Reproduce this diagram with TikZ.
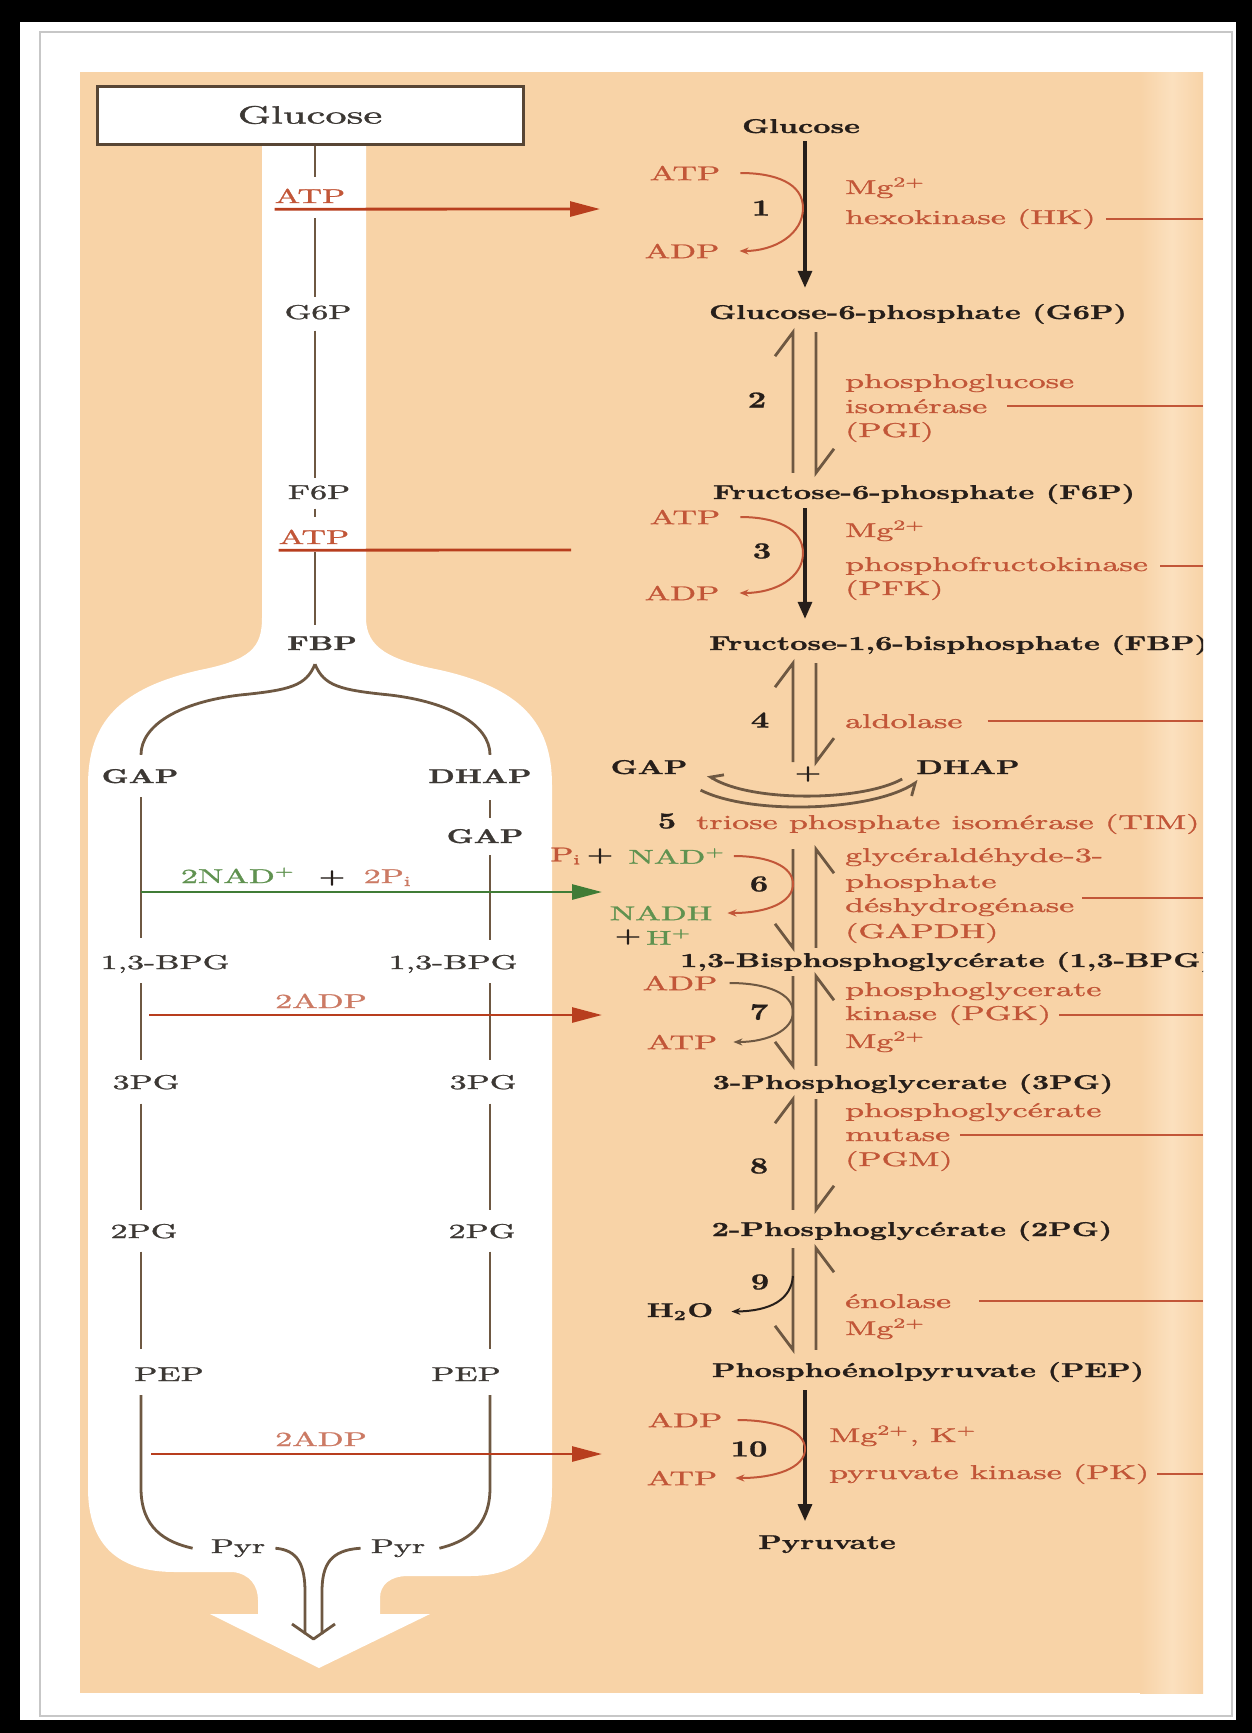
\documentclass[tikz,border=0pt]{standalone}
\usepackage{fontspec}
\usepackage{graphicx}
\usetikzlibrary{arrows.meta}
\newfontfamily\rmw{lmroman10-regular.otf}[FakeBold=1.1]
\newfontfamily\bfw{lmroman10-bold.otf}[FakeBold=0.9]
\definecolor{peach}{RGB}{248,211,167}
\definecolor{peachlt}{RGB}{251,224,190}
\definecolor{enz}{RGB}{194,86,56}
\definecolor{redarr}{RGB}{184,62,30}
\definecolor{grn}{RGB}{96,146,80}
\definecolor{grnarr}{RGB}{64,124,54}
\definecolor{brn}{RGB}{110,88,66}
\definecolor{ink}{RGB}{38,30,26}
\definecolor{gtxt}{RGB}{60,56,52}
\definecolor{pinkl}{RGB}{204,122,100}
\newcommand\RT[1]{\scalebox{3.4}[2]{\fontsize{10}{12}\selectfont\rmw #1}}
\newcommand\BT[1]{\scalebox{3.0}[2]{\fontsize{10}{12}\selectfont\bfw #1}}
\newcommand\NT[1]{\scalebox{3.2}[2.3]{\fontsize{10}{12}\selectfont\bfw #1}}
\newcommand\revA[4]{%
  \draw[rev] ([yshift=#4]#2.north -| rl) -- ([yshift=#3]#1.south -| rl) -- ++(-18,24);
  \draw[rev] ([yshift=#3]#1.south -| rr) -- ([yshift=#4]#2.north -| rr) -- ++(18,-24);}
\newcommand\revB[4]{%
  \draw[rev] ([yshift=#3]#1.south -| rl) -- ([yshift=#4]#2.north -| rl) -- ++(-18,-24);
  \draw[rev] ([yshift=#4]#2.north -| rr) -- ([yshift=#3]#1.south -| rr) -- ++(18,24);}
\tikzset{
 lab/.style={inner sep=0pt, anchor=base, text=gtxt},
 met/.style={inner sep=0pt, anchor=base, text=ink},
 metw/.style={inner sep=0pt, anchor=base west, text=ink},
 num/.style={inner sep=0pt, anchor=center, text=ink},
 cofr/.style={inner sep=0pt, anchor=center, text=enz},
 cofg/.style={inner sep=0pt, anchor=center, text=grn},
 enzt/.style={inner sep=0pt, anchor=base west, text=enz},
 flow/.style={draw=brn, line width=2.8pt},
 rev/.style={draw=brn, line width=2.8pt},
 mainarr/.style={draw=ink, line width=3.2pt, -{Triangle[length=17pt,width=14pt]}},
 cof/.style={draw=enz, line width=2pt, -{Stealth[length=9pt,width=7pt]}},
 enzl/.style={draw=enz, line width=2.6pt},
 redA/.style={draw=redarr, line width=2.8pt, -{Triangle[length=30pt,width=15pt]}},
 grnA/.style={draw=grnarr, line width=2.8pt, -{Triangle[length=30pt,width=15pt]}},
}
\begin{document}
\begin{tikzpicture}[x=1pt,y=-1pt]
\useasboundingbox (0,0) rectangle (1252,1733);
% frame
\fill[black] (0,0) rectangle (1252,1733);
\fill[white] (20,22) rectangle (1236,1720);
\draw[black!22, line width=2pt] (40,32) rectangle (1232,1716);
\fill[peach] (80,72) rectangle (1203,1693);
\shade[left color=peach, right color=peachlt] (1140,72) rectangle (1172,1693);
\shade[left color=peachlt, right color=peach] (1172,72) rectangle (1203,1693);
% white flow shape
\fill[white] (262,144) -- (262,618) .. controls (262,648) and (250,660) .. (200,670)
  .. controls (120,688) and (88,722) .. (88,785) -- (88,1488)
  .. controls (88,1545) and (118,1572) .. (175,1572) -- (233,1572)
  .. controls (250,1574) and (258,1586) .. (258,1600) -- (258,1614) -- (210,1614)
  -- (319,1668) -- (430,1614) -- (380,1614) -- (380,1598)
  .. controls (380,1585) and (390,1576) .. (408,1576) -- (470,1576)
  .. controls (525,1576) and (552,1545) .. (552,1488) -- (552,785)
  .. controls (552,722) and (520,688) .. (440,670)
  .. controls (390,660) and (366,648) .. (366,618) -- (366,144) -- cycle;

\begin{scope}
\clip (80,72) rectangle (1203,1693);
% reference x positions
\coordinate (sx) at (315,0);
\coordinate (cl) at (141,0);
\coordinate (cr) at (490,0);
\coordinate (ax) at (805,0);
\coordinate (rl) at (793,0);
\coordinate (rr) at (816,0);
\coordinate (rx) at (1203,0);

% ---------- left summary column ----------
\node[draw=brn!80!black, line width=3pt, fill=white, minimum width=426pt, minimum height=58pt, inner sep=0pt, text=gtxt] (gbox) at (310,115) {\scalebox{4.25}[2.5]{\fontsize{10}{12}\selectfont\rmw Glucose}};
\node[lab, text=enz] (atpS) at (310,203) {\RT{ATP}};
\node[lab] (g6pL) at (318,319) {\RT{G6P}};
\node[lab] (f6pL) at (319,499) {\RT{F6P}};
\node[lab, text=enz] (atpS2) at (314,544) {\RT{ATP}};
\node[lab] (fbpL) at (322,650) {\BT{FBP}};
\node[lab] (gapL) at (140,783) {\BT{GAP}};
\node[lab] (dhapL) at (480,783) {\BT{DHAP}};
\node[lab] (gapL2) at (485,843) {\BT{GAP}};
\node[lab] (bpgL) at (165,969) {\RT{1,3-BPG}};
\node[lab] (bpgR) at (453,969) {\RT{1,3-BPG}};
\node[lab] (pg3L) at (146,1089) {\RT{3PG}};
\node[lab] (pg3R) at (483,1089) {\RT{3PG}};
\node[lab] (pg2L) at (144,1238) {\RT{2PG}};
\node[lab] (pg2R) at (482,1238) {\RT{2PG}};
\node[lab] (pepL) at (169,1381) {\RT{PEP}};
\node[lab] (pepR) at (466,1381) {\RT{PEP}};
\node[lab] (pyrL) at (238,1553) {\RT{Pyr}};
\node[lab] (pyrR) at (398,1553) {\RT{Pyr}};
\node[lab, text=grn] (nad2) at (238,883) {\RT{2NAD\textsuperscript{+}}};
\node[lab, text=ink] (plus2) at (332,883) {\BT{+}};
\node[lab, text=pinkl] (pi2) at (388,883) {\RT{2P\textsubscript{i}}};
\node[lab, text=pinkl] (adp2a) at (321,1008) {\RT{2ADP}};
\node[lab, text=pinkl] (adp2b) at (321,1446) {\RT{2ADP}};

% stem
\draw[flow] (gbox.south -| sx) -- ([yshift=11pt]atpS.north -| sx);
\draw[flow] ([yshift=-15pt]atpS.south -| sx) -- ([yshift=8pt]g6pL.north -| sx);
\draw[flow] ([yshift=-11pt]g6pL.south -| sx) -- ([yshift=7pt]f6pL.north -| sx);
\draw[flow] ([yshift=-9pt]f6pL.south -| sx) -- ([yshift=12pt]atpS2.north -| sx);
\draw[flow] ([yshift=-8pt]atpS2.south -| sx) -- ([yshift=11pt]fbpL.north -| sx);
% brace
\draw[flow] ([yshift=-14pt]fbpL.south -| sx) .. controls (306,686) and (290,690) .. (240,695)
   .. controls (180,702) and (141,725) .. ([yshift=14pt]gapL.north -| cl);
\draw[flow] ([yshift=-14pt]fbpL.south -| sx) .. controls (324,686) and (340,690) .. (390,695)
   .. controls (450,702) and (490,725) .. ([yshift=14pt]dhapL.north -| cr);
% left column
\draw[flow] ([yshift=-14pt]gapL.south -| cl) -- ([yshift=17pt]bpgL.north -| cl);
\draw[flow] ([yshift=-10pt]bpgL.south -| cl) -- ([yshift=15pt]pg3L.north -| cl);
\draw[flow] ([yshift=-14pt]pg3L.south -| cl) -- ([yshift=14pt]pg2L.north -| cl);
\draw[flow] ([yshift=-13pt]pg2L.south -| cl) -- ([yshift=18pt]pepL.north -| cl);
\draw[flow] ([yshift=-14pt]pepL.south -| cl) -- (141,1488) .. controls (141,1528) and (165,1542) .. ([xshift=-18pt]pyrL.west);
% right column
\draw[flow] ([yshift=-17pt]dhapL.south -| cr) -- ([yshift=11pt]gapL2.north -| cr);
\draw[flow] ([yshift=-12pt]gapL2.south -| cr) -- ([yshift=15pt]bpgR.north -| cr);
\draw[flow] ([yshift=-10pt]bpgR.south -| cr) -- ([yshift=15pt]pg3R.north -| cr);
\draw[flow] ([yshift=-14pt]pg3R.south -| cr) -- ([yshift=14pt]pg2R.north -| cr);
\draw[flow] ([yshift=-13pt]pg2R.south -| cr) -- ([yshift=18pt]pepR.north -| cr);
\draw[flow] ([yshift=-14pt]pepR.south -| cr) -- (490,1488) .. controls (490,1528) and (465,1542) .. ([xshift=14pt]pyrR.east);
% pyruvate double arrow
\draw[flow] ([xshift=10pt]pyrL.east) .. controls (298,1550) and (305,1565) .. (305,1592) -- (305,1634);
\draw[flow] ([xshift=-10pt]pyrR.west) .. controls (330,1550) and (322,1565) .. (322,1592) -- (322,1634);
\draw[flow, line join=round] (292,1624) -- (313.5,1639) -- (335,1624);

% horizontal arrows
\coordinate (t1) at (600,209);
\coordinate (t3) at (571,550);
\coordinate (gs) at (141,892);
\coordinate (gt) at (602,892);
\coordinate (as) at (149,1015);
\coordinate (at) at (602,1015);
\coordinate (bs) at (151,1454);
\coordinate (bt) at (602,1454);
\draw[redA] ([yshift=-6pt]atpS.south west) -- (t1);
\draw[draw=redarr, line width=2.8pt] ([yshift=-6pt]atpS2.south west) -- (t3);
\draw[grnA] (gs) -- (gt);
\draw[redA] (as) -- (at);
\draw[redA] (bs) -- (bt);

% ---------- right detailed pathway ----------
\node[met] (gluR) at (801,133) {\BT{Glucose}};
\node[met] (g6pR) at (918,319) {\BT{Glucose-6-phosphate (G6P)}};
\node[met] (f6pR) at (924,499) {\BT{Fructose-6-phosphate (F6P)}};
\node[metw] (fbpR) at (709,650) {\BT{Fructose-1,6-bisphosphate (FBP)}};
\node[met] (gapR) at (649,774) {\BT{GAP}};
\node[met] (plusR) at (808,779) {\BT{+}};
\node[met] (dhapR) at (968,774) {\BT{DHAP}};
\node[metw] (bpgRt) at (680,967) {\BT{1,3-Bisphosphoglycérate (1,3-BPG)}};
\node[met] (pg3Rt) at (913,1089) {\BT{3-Phosphoglycerate (3PG)}};
\node[met] (pg2Rt) at (912,1236) {\BT{2-Phosphoglycérate (2PG)}};
\node[met] (pepRt) at (928,1377) {\BT{Phosphoénolpyruvate (PEP)}};
\node[met] (pyrRt) at (827,1549) {\BT{Pyruvate}};
\node[met] (h2o) at (680,1317) {\BT{H\textsubscript{2}O}};

\node[num] (s1) at (761,208) {\NT{1}};
\node[num] (s2) at (757,400) {\NT{2}};
\node[num] (s3) at (762,551) {\NT{3}};
\node[num] (s4) at (760,720) {\NT{4}};
\node[num] (s5) at (667,821) {\NT{5}};
\node[num] (s6) at (759,884) {\NT{6}};
\node[num] (s7) at (759,1012) {\NT{7}};
\node[num] (s8) at (759,1166) {\NT{8}};
\node[num] (s9) at (760,1282) {\NT{9}};
\node[num] (s10) at (749,1449) {\NT{10}};

\node[cofr] (atp1) at (685,173) {\RT{ATP}};
\node[cofr] (adp1) at (682,251) {\RT{ADP}};
\node[cofr] (atp3) at (685,517) {\RT{ATP}};
\node[cofr] (adp3) at (682,593) {\RT{ADP}};
\node[cofr] (adp7) at (680,983) {\RT{ADP}};
\node[cofr] (atp7) at (682,1042) {\RT{ATP}};
\node[cofr] (adp10) at (685,1420) {\RT{ADP}};
\node[cofr] (atp10) at (682,1478) {\RT{ATP}};
\node[cofr] (pi6) at (566,856) {\RT{P\textsubscript{i}}};
\node[num] (plus6) at (600,856) {\BT{+}};
\node[cofg] (nad6) at (677,856) {\RT{NAD\textsuperscript{+}}};
\node[cofg] (nadh6) at (661,913) {\RT{NADH}};
\node[num] (plusH) at (628,937) {\BT{+}};
\node[cofg] (h6) at (669,937) {\RT{H\textsuperscript{+}}};

\node[enzt] (mg1) at (845,194) {\RT{Mg\textsuperscript{2+}}};
\node[enzt] (hk) at (845,224) {\RT{hexokinase (HK)}};
\node[enzt] (pgi1) at (845,388) {\RT{phosphoglucose}};
\node[enzt] (pgi2) at (845,413) {\RT{isomérase}};
\node[enzt] (pgi3) at (845,437) {\RT{(PGI)}};
\node[enzt] (mg3) at (845,537) {\RT{Mg\textsuperscript{2+}}};
\node[enzt] (pfk1) at (845,571) {\RT{phosphofructokinase}};
\node[enzt] (pfk2) at (845,595) {\RT{(PFK)}};
\node[enzt] (ald) at (845,728) {\RT{aldolase}};
\node[enzt] (tim) at (696,829) {\RT{triose phosphate isomérase (TIM)}};
\node[enzt] (gapdh1) at (845,862) {\RT{glycéraldéhyde-3-}};
\node[enzt] (gapdh2) at (845,888) {\RT{phosphate}};
\node[enzt] (gapdh3) at (845,912) {\RT{déshydrogénase}};
\node[enzt] (gapdh4) at (845,938) {\RT{(GAPDH)}};
\node[enzt] (pgk1) at (845,996) {\RT{phosphoglycerate}};
\node[enzt] (pgk2) at (845,1020) {\RT{kinase (PGK)}};
\node[enzt] (mg7) at (845,1048) {\RT{Mg\textsuperscript{2+}}};
\node[enzt] (pgm1) at (845,1117) {\RT{phosphoglycérate}};
\node[enzt] (pgm2) at (845,1141) {\RT{mutase}};
\node[enzt] (pgm3) at (845,1166) {\RT{(PGM)}};
\node[enzt] (eno) at (845,1308) {\RT{énolase}};
\node[enzt] (mg9) at (845,1335) {\RT{Mg\textsuperscript{2+}}};
\node[enzt] (mgk) at (829,1442) {\RT{Mg\textsuperscript{2+}, K\textsuperscript{+}}};
\node[enzt] (pk) at (829,1479) {\RT{pyruvate kinase (PK)}};

% enzyme leader lines
\draw[enzl] ([xshift=10pt]hk.east) -- (hk.east -| rx);
\draw[enzl] ([xshift=20pt]pgi2.east) -- (pgi2.east -| rx);
\draw[enzl] ([xshift=12pt]pfk1.east) -- (pfk1.east -| rx);
\draw[enzl] ([xshift=25pt]ald.east) -- (ald.east -| rx);
\draw[enzl] ([xshift=8pt]gapdh3.north east) -- (gapdh3.north east -| rx);
\draw[enzl] ([xshift=8pt]pgk2.east) -- (pgk2.east -| rx);
\draw[enzl] ([xshift=10pt]pgm2.east) -- (pgm2.east -| rx);
\draw[enzl] ([xshift=28pt]eno.east) -- (eno.east -| rx);
\draw[enzl] ([xshift=8pt]pk.east) -- (pk.east -| rx);

% irreversible steps
\draw[mainarr] ([yshift=-8pt]gluR.south -| ax) -- ([yshift=16pt]g6pR.north -| ax);
\draw[mainarr] ([yshift=-4pt]f6pR.south -| ax) -- ([yshift=16pt]fbpR.north -| ax);
\draw[mainarr] ([yshift=-8pt]pepRt.south -| ax) -- ([yshift=14pt]pyrRt.north -| ax);
% reversible steps
\revA{g6pR}{f6pR}{-8pt}{11pt}
\revA{fbpR}{plusR}{-8pt}{4pt}
\revB{tim}{bpgRt}{-15pt}{4pt}
\revB{bpgRt}{pg3Rt}{-4pt}{8pt}
\revA{pg3Rt}{pg2Rt}{-5pt}{11pt}
\revB{pg2Rt}{pepRt}{-7pt}{12pt}
% step 5 arcs
\draw[rev, -{Straight Barb[harpoon,swap,length=10pt,width=18pt]}] ([xshift=-14pt,yshift=-12pt]dhapR.west) .. controls (860,802) and (750,802) .. ([xshift=20pt,yshift=-8pt]gapR.east);
\draw[rev, -{Straight Barb[harpoon,swap,length=10pt,width=18pt]}] ([xshift=13pt,yshift=-23pt]gapR.east) .. controls (750,815) and (870,812) .. ([xshift=2pt,yshift=-14pt]dhapR.west);

% cofactor curves
\draw[cof] ([xshift=20pt]atp1.east) .. controls (775,173) and (803,183) .. (803,208) .. controls (803,234) and (775,251) .. ([xshift=20pt]adp1.east);
\draw[cof] ([xshift=20pt]atp3.east) .. controls (775,517) and (803,528) .. (803,553) .. controls (803,578) and (775,593) .. ([xshift=20pt]adp3.east);
\draw[cof] ([xshift=8pt]nad6.east) .. controls (768,856) and (793,866) .. (793,884) .. controls (793,902) and (768,913) .. ([xshift=15pt]nadh6.east);
\draw[cof, draw=brn] ([xshift=12pt]adp7.east) .. controls (768,983) and (793,994) .. (793,1012) .. controls (793,1030) and (768,1042) .. ([xshift=16pt]atp7.east);
\draw[cof] ([xshift=15pt]adp10.east) .. controls (775,1420) and (805,1430) .. (805,1449) .. controls (805,1468) and (775,1478) .. ([xshift=18pt]atp10.east);
\coordinate (w9) at (793,1276);
\draw[cof, draw=ink] (w9) .. controls (791,1300) and (770,1311) .. ([xshift=18pt]h2o.east);
\end{scope}
\end{tikzpicture}
\end{document}
